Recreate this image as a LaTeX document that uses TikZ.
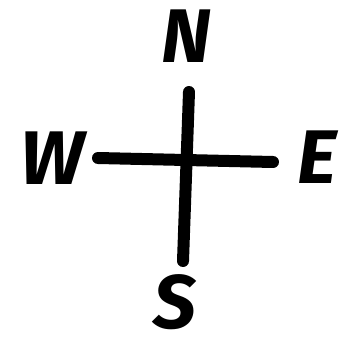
\documentclass[tikz,border=0pt]{standalone}
\usepackage{fontspec}
\setmainfont{Fira Sans}
\usetikzlibrary{positioning}
\tikzset{letter/.style={font=\fontsize{76}{76}\selectfont\bfseries\itshape,inner sep=0pt},
 arm/.style={line width=12pt,line cap=round}}
\begin{document}
\begin{tikzpicture}[x=1pt,y=-1pt]
\useasboundingbox (0,0) rectangle (349,343);
\coordinate (top) at (189,92);
\coordinate (bot) at (183,261);
\coordinate (lft) at (98,158);
\coordinate (rgt) at (273,162);
\draw[arm] (top)--(bot);
\draw[arm] (lft)--(rgt);
\node[letter] (north) at (186,36) {N};
\node[letter] (south) at (175,302) {S};
\node[letter] (west) at (52,158) {W};
\node[letter] (east) at (317,157) {E};
\end{tikzpicture}
\end{document}
